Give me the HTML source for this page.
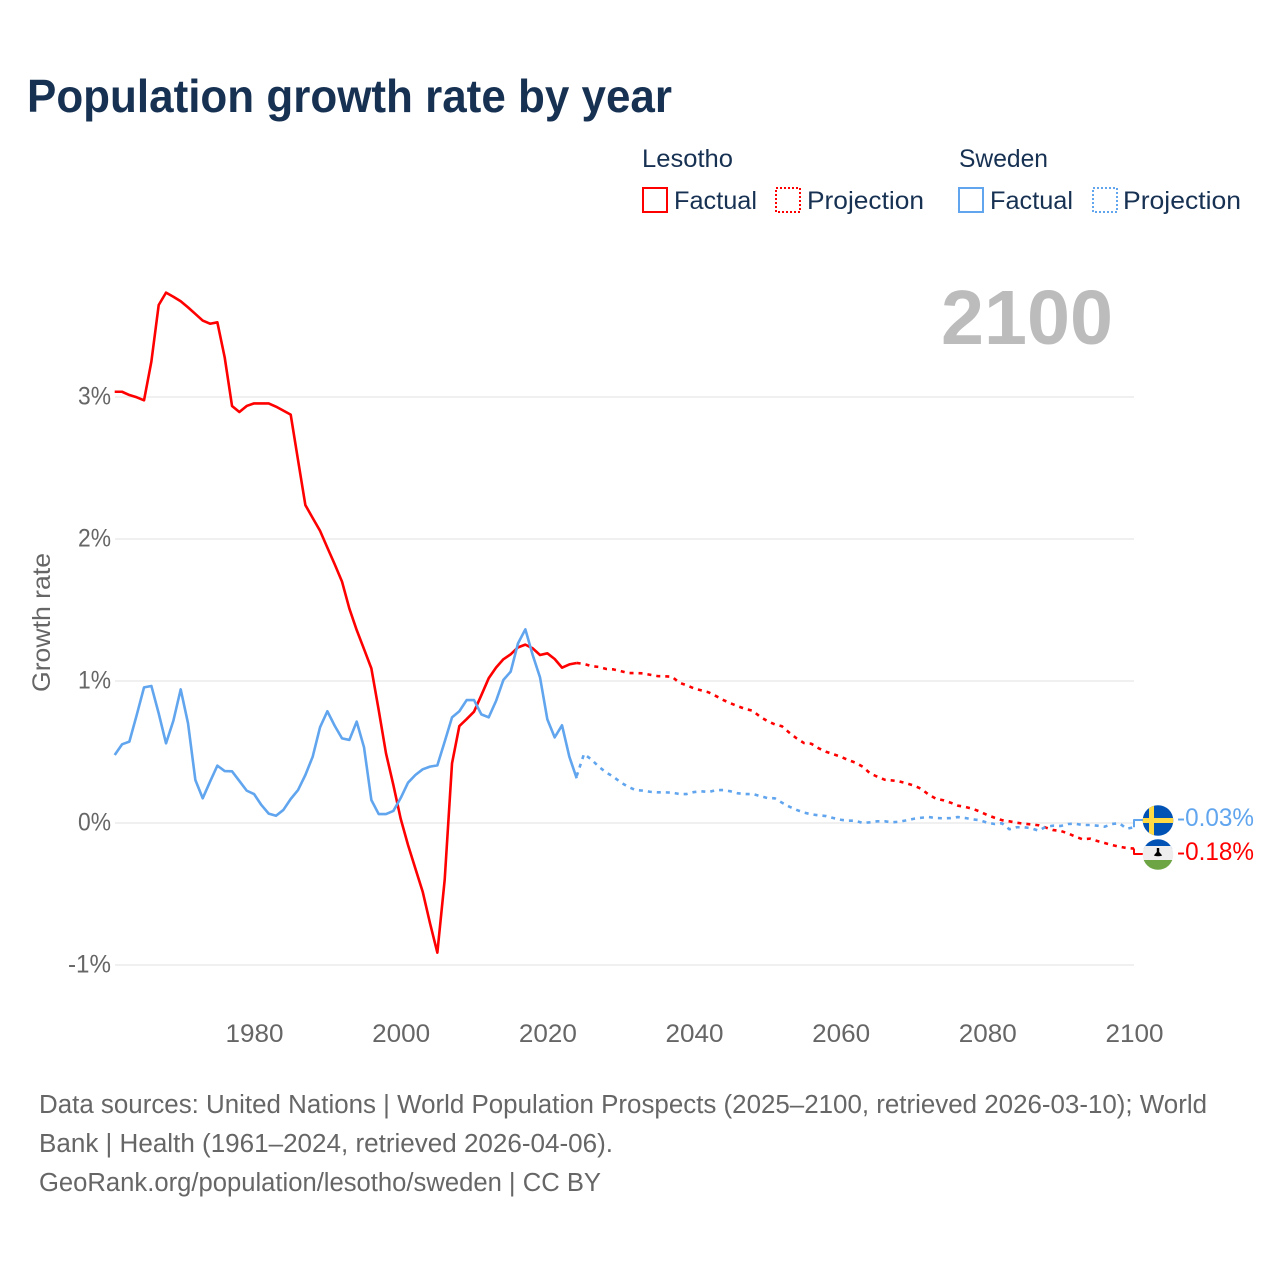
<!DOCTYPE html>
<html lang="en">
<head>
<meta charset="utf-8">
<title>Population growth rate by year</title>
<style>
html,body{margin:0;padding:0;background:#fff;width:1280px;height:1280px;overflow:hidden}
svg{display:block}
text{font-family:"Liberation Sans",sans-serif}
</style>
</head>
<body>
<svg id="chart" xmlns="http://www.w3.org/2000/svg" width="1280" height="1280" viewBox="0 0 1280 1280">
  <defs>
    <clipPath id="clip-se"><circle cx="1158" cy="820.5" r="15.3"/></clipPath>
    <clipPath id="clip-ls"><circle cx="1158" cy="854.5" r="15.3"/></clipPath>
  </defs>
  <rect width="1280" height="1280" fill="#fff"/>

  <text x="27" y="112" font-size="46" font-weight="700" fill="#173153" textLength="645" lengthAdjust="spacingAndGlyphs">Population growth rate by year</text>

  <g font-size="25" fill="#173153">
    <text x="642" y="167" textLength="91" lengthAdjust="spacingAndGlyphs">Lesotho</text>
    <text x="959" y="167" textLength="89" lengthAdjust="spacingAndGlyphs">Sweden</text>
    <rect x="643" y="188" width="24" height="24" fill="none" stroke="#ff0000" stroke-width="2"/>
    <text x="674" y="209" textLength="83" lengthAdjust="spacingAndGlyphs">Factual</text>
    <rect x="776" y="188" width="24" height="24" fill="none" stroke="#ff0000" stroke-width="2" stroke-dasharray="2 2"/>
    <text x="807" y="209" textLength="117" lengthAdjust="spacingAndGlyphs">Projection</text>
    <rect x="959" y="188" width="24" height="24" fill="none" stroke="#60a5ee" stroke-width="2"/>
    <text x="990" y="209" textLength="83" lengthAdjust="spacingAndGlyphs">Factual</text>
    <rect x="1093" y="188" width="24" height="24" fill="none" stroke="#60a5ee" stroke-width="2" stroke-dasharray="2 2"/>
    <text x="1123" y="209" textLength="118" lengthAdjust="spacingAndGlyphs">Projection</text>
  </g>

  <text x="941" y="344" font-size="77" font-weight="700" fill="#bcbcbc" textLength="172" lengthAdjust="spacingAndGlyphs">2100</text>

  <text transform="translate(50,692) rotate(-90)" font-size="25" fill="#666" textLength="139" lengthAdjust="spacingAndGlyphs">Growth rate</text>

  <g id="grid"></g>
  <g id="y-ticks" font-size="25" fill="#666" text-anchor="end"></g>
  <g id="x-ticks" font-size="25" fill="#666" text-anchor="middle"></g>
  <g id="series" fill="none" stroke-width="2.6" stroke-linejoin="round"></g>

  <g clip-path="url(#clip-se)">
    <rect x="1142" y="805" width="32" height="31" fill="#0052b4"/>
    <rect x="1142" y="818" width="32" height="5" fill="#ffda44"/>
    <rect x="1149" y="805" width="5" height="31" fill="#ffda44"/>
  </g>
  <g clip-path="url(#clip-ls)">
    <rect x="1142" y="839" width="32" height="10" fill="#0052b4"/>
    <rect x="1142" y="846" width="32" height="15" fill="#eeeeee"/>
    <rect x="1142" y="860" width="32" height="11" fill="#6da544"/>
    <path d="M1156.800 848h2.400v4l3 3.500q-4 1.500-8.400 0l3-3.500z" fill="#000"/>
  </g>
  <text x="1177" y="826" font-size="25" fill="#60a5ee" textLength="77" lengthAdjust="spacingAndGlyphs">-0.03%</text>
  <text x="1177" y="860" font-size="25" fill="#ff0000" textLength="77" lengthAdjust="spacingAndGlyphs">-0.18%</text>

  <g font-size="25.5" fill="#666">
    <text x="39" y="1113" textLength="1168" lengthAdjust="spacingAndGlyphs">Data sources: United Nations | World Population Prospects (2025–2100, retrieved 2026-03-10); World</text>
    <text x="39" y="1152" textLength="574" lengthAdjust="spacingAndGlyphs">Bank | Health (1961–2024, retrieved 2026-04-06).</text>
    <text x="39" y="1191" textLength="562" lengthAdjust="spacingAndGlyphs">GeoRank.org/population/lesotho/sweden | CC BY</text>
  </g>
</svg>

<script>
const xTickYears = [1980, 2000, 2020, 2040, 2060, 2080, 2100];
const yTickValues = [3, 2, 1, 0, -1];
const factualStartYear = 1961;
const projectionStartYear = 2024;

const lesothoFactual = [3.037,3.037,3.014,2.998,2.977,3.249,3.648,3.735,3.706,3.674,3.631,3.585,3.538,3.516,3.526,3.279,2.937,2.894,2.937,2.955,2.955,2.955,2.932,2.904,2.876,2.556,2.239,2.148,2.058,1.939,1.822,1.70,1.51,1.359,1.225,1.089,0.796,0.49,0.268,0.03,-0.155,-0.32,-0.484,-0.706,-0.913,-0.40,0.42,0.683,0.732,0.784,0.90,1.019,1.094,1.153,1.188,1.237,1.256,1.23,1.183,1.195,1.155,1.094,1.117,1.127];

const swedenFactual = [0.479,0.554,0.573,0.76,0.955,0.965,0.772,0.561,0.72,0.941,0.702,0.303,0.174,0.291,0.404,0.366,0.364,0.296,0.228,0.204,0.127,0.066,0.051,0.092,0.169,0.232,0.338,0.467,0.674,0.787,0.685,0.596,0.585,0.714,0.533,0.162,0.063,0.063,0.085,0.176,0.284,0.338,0.378,0.397,0.406,0.573,0.744,0.787,0.866,0.866,0.765,0.744,0.859,1.007,1.066,1.265,1.364,1.183,1.026,0.73,0.603,0.688,0.467,0.315];

const lesothoProjection = [1.127,1.12,1.105,1.099,1.085,1.082,1.07,1.056,1.056,1.054,1.044,1.035,1.033,1.03,0.988,0.97,0.948,0.934,0.92,0.894,0.866,0.843,0.822,0.803,0.791,0.749,0.718,0.695,0.681,0.636,0.596,0.563,0.558,0.526,0.502,0.484,0.467,0.444,0.425,0.397,0.35,0.326,0.305,0.30,0.293,0.279,0.263,0.24,0.2,0.171,0.16,0.143,0.122,0.113,0.10,0.08,0.056,0.037,0.02,0.012,0.002,-0.005,-0.01,-0.016,-0.033,-0.05,-0.056,-0.073,-0.096,-0.115,-0.11,-0.127,-0.141,-0.155,-0.167,-0.176,-0.18];

const swedenProjection = [0.33,0.486,0.448,0.397,0.357,0.326,0.286,0.256,0.232,0.228,0.22,0.216,0.216,0.214,0.204,0.204,0.218,0.223,0.218,0.232,0.232,0.223,0.209,0.204,0.204,0.19,0.176,0.174,0.143,0.115,0.092,0.073,0.061,0.054,0.049,0.035,0.023,0.016,0.016,0,0.005,0.012,0.012,0.005,0.009,0.019,0.03,0.037,0.042,0.035,0.033,0.035,0.042,0.035,0.026,0.019,0.002,-0.007,-0.002,-0.044,-0.03,-0.03,-0.037,-0.054,-0.026,-0.019,-0.021,-0.007,-0.005,-0.014,-0.014,-0.019,-0.026,-0.007,-0.002,-0.04,-0.03];

const SVG_NS = 'http://www.w3.org/2000/svg';
const xScale = function (year) { return 114.7 + (year - 1961) * 7.333; };
const yScale = function (value) { return 823 - value * 142; };
const plotLeft = 115;
const plotRight = 1134;
const RED = '#ff0000';
const BLUE = '#60a5ee';

function make(tag, parent) {
  const el = document.createElementNS(SVG_NS, tag);
  parent.appendChild(el);
  return el;
}

function linePath(startYear, values) {
  return values.map(function (v, i) {
    return (i ? 'L' : 'M') + xScale(startYear + i).toFixed(2) + ' ' + yScale(v).toFixed(2);
  }).join('');
}

const gridGroup = document.getElementById('grid');
const yTickGroup = document.getElementById('y-ticks');
yTickValues.forEach(function (v) {
  const line = make('line', gridGroup);
  
  
  line.setAttribute('x1', plotLeft);
  line.setAttribute('x2', plotRight);
  line.setAttribute('y1', yScale(v));
  line.setAttribute('y2', yScale(v));
  line.setAttribute('stroke', '#ececec');
  line.setAttribute('stroke-width', '1.5');
  const label = make('text', yTickGroup);
  
  
  label.setAttribute('x', 111);
  label.setAttribute('y', yScale(v) + 7.5);
  label.setAttribute('textLength', v < 0 ? 43 : 33);
  label.setAttribute('lengthAdjust', 'spacingAndGlyphs');
  label.textContent = v + '%';
});

const xTickGroup = document.getElementById('x-ticks');
xTickYears.forEach(function (year) {
  const label = make('text', xTickGroup);
  
  
  label.setAttribute('x', xScale(year) + 0.5);
  label.setAttribute('y', 1042);
  label.setAttribute('textLength', 58);
  label.setAttribute('lengthAdjust', 'spacingAndGlyphs');
  label.textContent = year;
});

const seriesGroup = document.getElementById('series');

function drawLine(name, startYear, values, color, dashed) {
  const path = make('path', seriesGroup);
  
  
  path.setAttribute('d', linePath(startYear, values));
  path.setAttribute('stroke', color);
  if (dashed) {
    path.setAttribute('stroke-dasharray', '4 5');
  }
}

function drawLeader(name, endValue, flagY, color) {
  const x = xScale(2100);
  const path = make('path', seriesGroup);
  
  
  path.setAttribute('d', 'M' + x + ' ' + yScale(endValue) + 'V' + flagY + 'H1144');
  path.setAttribute('stroke', color);
  path.setAttribute('stroke-width', '2');
}

drawLine('lesotho-projection-line', projectionStartYear, lesothoProjection, RED, true);
drawLine('lesotho-factual-line', factualStartYear, lesothoFactual, RED, false);
drawLine('sweden-projection-line', projectionStartYear, swedenProjection, BLUE, true);
drawLine('sweden-factual-line', factualStartYear, swedenFactual, BLUE, false);
drawLeader('lesotho-end-leader', lesothoProjection[lesothoProjection.length - 1], 854, RED);
drawLeader('sweden-end-leader', swedenProjection[swedenProjection.length - 1], 820, BLUE);
</script>
</body>
</html>
